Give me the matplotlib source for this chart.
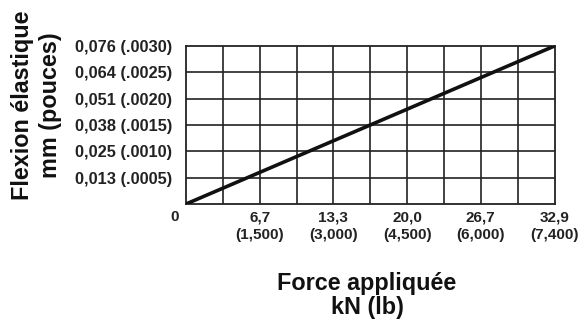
import matplotlib
matplotlib.use("Agg")
import matplotlib.pyplot as plt
import numpy as np

plt.rcParams['font.family'] = ['Liberation Sans', 'DejaVu Sans']

# Data
force_kN = [0.0, 32.9]
deflection_mm = [0.0, 0.076]

x_max = 32.9
y_max = 0.076
n_xcells = 10
n_ycells = 6

x_tick_labels = ["6,7\n(1,500)", "13,3\n(3,000)", "20,0\n(4,500)", "26,7\n(6,000)", "32,9\n(7,400)"]
y_tick_labels = ["0,013 (.0005)", "0,025 (.0010)", "0,038 (.0015)",
                 "0,051 (.0020)", "0,064 (.0025)", "0,076 (.0030)"]

W, H = 587, 322
fig = plt.figure(figsize=(W / 100, H / 100), dpi=100)
ax = fig.add_axes([186 / W, 1 - 204 / H, (554.5 - 186) / W, (204 - 46) / H])

ax.set_xlim(0, x_max)
ax.set_ylim(0, y_max)

xgrid = np.linspace(0, x_max, n_xcells + 1)
ygrid = np.linspace(0, y_max, n_ycells + 1)
for xv in xgrid[1:-1]:
    ax.axvline(xv, color='#222222', lw=1.2, zorder=1)
for yv in ygrid[1:-1]:
    ax.axhline(yv, color='#222222', lw=1.2, zorder=1)
for s in ax.spines.values():
    s.set_linewidth(1.3)
    s.set_color('#222222')

ax.plot(force_kN, deflection_mm, color='#111111', lw=2.6, solid_capstyle='butt', zorder=3)

ax.set_xticks(xgrid[2::2])
ax.set_xticklabels(x_tick_labels, fontsize=11, fontweight='bold', linespacing=1.25)
ax.set_yticks(ygrid[1:])
ax.set_yticklabels(y_tick_labels, fontsize=11.8, fontweight='bold')
ax.tick_params(axis='both', length=0, pad=10, colors='#222222')
ax.tick_params(axis='x', pad=5)

fig.text(175 / W, 1 - 217 / H, "0", fontsize=11, fontweight='bold',
         ha='center', va='center', color='#222222')

fig.text(23 / W, 1 - 105 / H, "Flexion élastique", rotation=90, fontsize=16.8,
         fontweight='bold', ha='center', va='center', color='#111111')
fig.text(51 / W, 1 - 105 / H, "mm (pouces)", rotation=90, fontsize=16.8,
         fontweight='bold', ha='center', va='center', color='#111111')

fig.text(367 / W, 1 - 290 / H, "Force appliquée", fontsize=16.8,
         fontweight='bold', ha='center', va='baseline', color='#111111')
fig.text(367 / W, 1 - 314 / H, "kN (lb)", fontsize=16.8,
         fontweight='bold', ha='center', va='baseline', color='#111111')

fig.savefig("out.png", dpi=100)
